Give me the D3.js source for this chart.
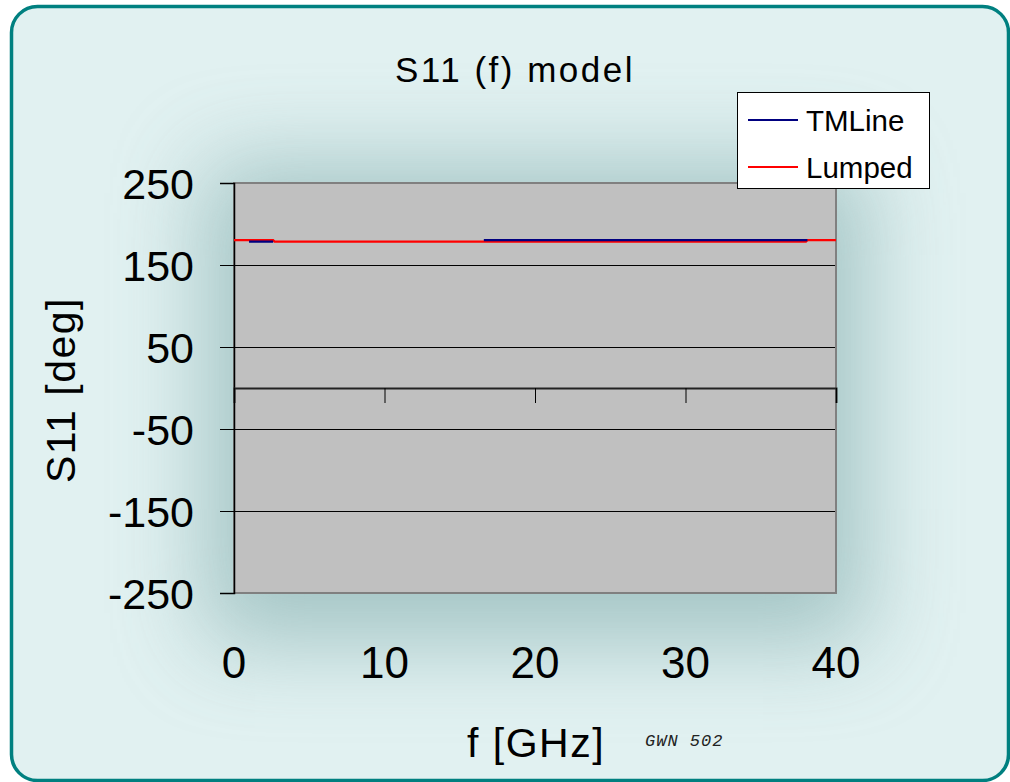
<!DOCTYPE html>
<html>
<head>
<meta charset="utf-8">
<script src="https://cdn.jsdelivr.net/npm/d3@7"></script>
<style>
  html, body { margin: 0; padding: 0; background: #ffffff; }
  svg { display: block; }
</style>
</head>
<body>
<svg id="chart" width="1010" height="782"></svg>
<script>
// S11 phase versus frequency for the two models
const tmlineFreq = [1.0, 2.6, null, 16.6, 38.1];
const tmlineS11  = [178.5, 178.5, null, 180.3, 180.3];

const lumpedFreq = [0, 2.6, 2.7, 38.0, 38.1, 40];
const lumpedS11  = [180.3, 180.3, 178.5, 178.5, 180.3, 180.3];

const xTicks = [0, 10, 20, 30, 40];
const yTicks = [250, 150, 50, -50, -150, -250];
const seriesNames = ["TMLine", "Lumped"];
const seriesColors = ["#000080", "#ff0000"];

const svg = d3.select("#chart");
const plot = { left: 234, top: 183, right: 836, bottom: 593 };
const FONT = "Liberation Sans, Arial, sans-serif";

const defs = svg.append("defs");
const glow = defs.append("filter").attr("id", "glow")
  .attr("x", "-50%").attr("y", "-50%").attr("width", "200%").attr("height", "200%");
glow.append("feGaussianBlur").attr("stdDeviation", 45);
const clip = defs.append("clipPath").attr("id", "frameClip");
clip.append("rect").attr("x", 12).attr("y", 7).attr("width", 996).attr("height", 773).attr("rx", 26);

// Outer rounded frame with a soft halo behind the plot
svg.append("rect").attr("x", 12).attr("y", 7).attr("width", 996).attr("height", 773)
  .attr("rx", 26).attr("fill", "#e1f1f1");
svg.append("g").attr("clip-path", "url(#frameClip)")
  .append("rect")
  .attr("x", plot.left - 30).attr("y", plot.top - 20)
  .attr("width", plot.right - plot.left + 60).attr("height", plot.bottom - plot.top + 70)
  .attr("fill", "#7faaaa").attr("opacity", 0.62).attr("filter", "url(#glow)");
svg.append("rect").attr("x", 11.5).attr("y", 6.5).attr("width", 997).attr("height", 774)
  .attr("rx", 26).attr("fill", "none").attr("stroke", "#008080").attr("stroke-width", 3.5);

const x = d3.scaleLinear().domain([0, 40]).range([plot.left, plot.right]);
const y = d3.scaleLinear().domain([-250, 250]).range([plot.bottom, plot.top]);

// Plot area
svg.append("rect").attr("x", plot.left).attr("y", plot.top)
  .attr("width", plot.right - plot.left).attr("height", plot.bottom - plot.top)
  .attr("fill", "#c0c0c0");

// Horizontal gridlines
svg.append("g").selectAll("line").data(yTicks.filter(d => d !== 250 && d !== -250)).join("line")
  .attr("x1", plot.left).attr("x2", plot.right)
  .attr("y1", d => Math.round(y(d)) + 0.5).attr("y2", d => Math.round(y(d)) + 0.5)
  .attr("stroke", "#000").attr("stroke-width", 1);

// Plot border
svg.append("rect").attr("x", plot.left).attr("y", plot.top)
  .attr("width", plot.right - plot.left).attr("height", plot.bottom - plot.top)
  .attr("fill", "none").attr("stroke", "#808080").attr("stroke-width", 2);

// Y axis with tick labels
const yAxis = d3.axisLeft(y).tickValues(yTicks).tickSize(14).tickPadding(26)
  .tickFormat(d => String(d));
const gy = svg.append("g").attr("transform", `translate(${plot.left},0)`).call(yAxis);
gy.select(".domain").attr("stroke", "#000").attr("stroke-width", 1.5);
gy.selectAll(".tick line").attr("stroke", "#000");
gy.selectAll(".tick text").attr("font-family", FONT)
  .attr("font-size", 43).attr("fill", "#000").attr("dy", "0.36em");

// X axis drawn through zero, ticks pointing down
const xAxis = d3.axisBottom(x).tickValues(xTicks).tickSize(15).tickFormat("");
const gx = svg.append("g").attr("transform", `translate(0,${y(0)})`).call(xAxis);
gx.select(".domain").attr("stroke", "#222").attr("stroke-width", 2);
gx.selectAll(".tick line").attr("stroke", "#000");

// X tick labels along the bottom
svg.append("g").selectAll("text").data(xTicks).join("text")
  .attr("x", d => x(d)).attr("y", 678)
  .attr("text-anchor", "middle")
  .attr("font-family", FONT).attr("font-size", 44)
  .text(d => d);

// Series lines
const lineGen = (fs, vs) => d3.line()
  .defined((d, i) => fs[i] !== null && vs[i] !== null)
  .x((d, i) => x(fs[i])).y((d, i) => y(vs[i]));

svg.append("path").datum(lumpedFreq)
  .attr("d", lineGen(lumpedFreq, lumpedS11))
  .attr("fill", "none").attr("stroke", seriesColors[1]).attr("stroke-width", 2.2);
svg.append("path").datum(tmlineFreq)
  .attr("d", lineGen(tmlineFreq, tmlineS11))
  .attr("fill", "none").attr("stroke", seriesColors[0]).attr("stroke-width", 2.2);

// Title and axis titles
svg.append("text").attr("x", 515).attr("y", 82).attr("text-anchor", "middle")
  .attr("font-family", FONT).attr("font-size", 35)
  .attr("letter-spacing", 2.5)
  .text("S11 (f) model");
svg.append("text").attr("transform", "translate(75,390) rotate(-90)")
  .attr("text-anchor", "middle")
  .attr("font-family", FONT).attr("font-size", 41)
  .attr("letter-spacing", 1.5)
  .text("S11 [deg]");
svg.append("text").attr("x", 536).attr("y", 757).attr("text-anchor", "middle")
  .attr("font-family", FONT).attr("font-size", 41)
  .attr("letter-spacing", 1.5)
  .text("f [GHz]");
svg.append("text").attr("x", 645).attr("y", 746)
  .attr("font-family", "Liberation Mono, Courier New, monospace").attr("font-style", "italic")
  .attr("font-size", 17).attr("letter-spacing", 1).attr("fill", "#222")
  .text("GWN 502");

// Legend
const legend = svg.append("g");
legend.append("rect").attr("x", 737.5).attr("y", 92.5).attr("width", 192).attr("height", 96)
  .attr("fill", "#fff").attr("stroke", "#000").attr("stroke-width", 1);
const ly = [120, 167];
seriesNames.forEach((name, i) => {
  legend.append("line").attr("x1", 748).attr("x2", 798).attr("y1", ly[i]).attr("y2", ly[i])
    .attr("stroke", seriesColors[i]).attr("stroke-width", 2);
  legend.append("text").attr("x", 806).attr("y", ly[i] + 10.5)
    .attr("font-family", FONT).attr("font-size", 29.5)
    .text(name);
});
</script>
</body>
</html>
